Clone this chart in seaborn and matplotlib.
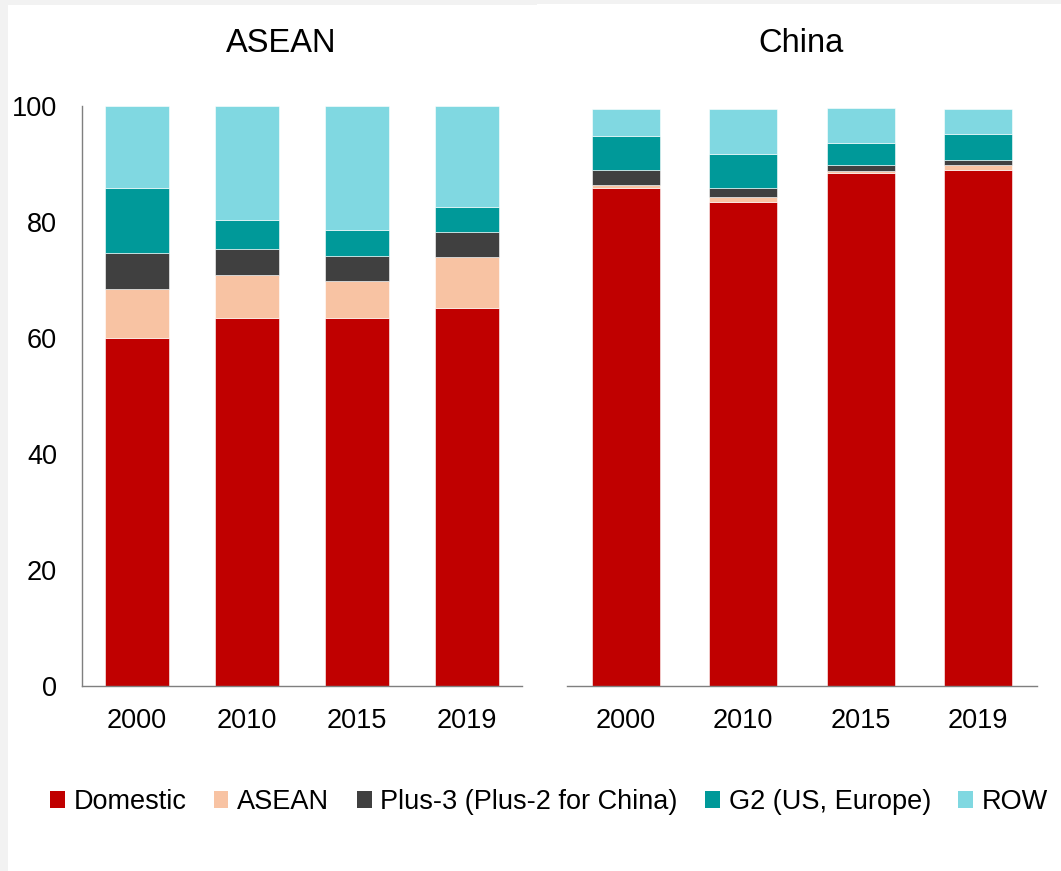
import matplotlib
matplotlib.use("Agg")
import matplotlib.pyplot as plt
from matplotlib.patches import Patch, Rectangle
import pandas as pd
import seaborn as sns

sns.set_theme(style="white")
plt.rcParams["font.family"] = ["Liberation Sans", "DejaVu Sans"]
plt.rcParams["text.color"] = "black"
plt.rcParams["xtick.color"] = "black"
plt.rcParams["ytick.color"] = "black"

years = ["2000", "2010", "2015", "2019"]
segments = ["Domestic", "ASEAN", "Plus-3 (Plus-2 for China)", "G2 (US, Europe)", "ROW"]
colors = ["#C00000", "#F8C3A3", "#404040", "#009999", "#80D8E1"]

# Value-added shares (%) by source, per economy
asean_domestic = [60.0, 63.5, 63.4, 65.1]
asean_asean = [8.4, 7.4, 6.4, 8.8]
asean_plus = [6.2, 4.4, 4.3, 4.4]
asean_g2 = [11.3, 5.0, 4.6, 4.3]
asean_row = [14.1, 19.7, 21.3, 17.4]

china_domestic = [85.9, 83.5, 88.4, 89.0]
china_asean = [0.5, 0.8, 0.4, 0.8]
china_plus = [2.6, 1.5, 1.1, 0.9]
china_g2 = [5.8, 6.0, 3.8, 4.5]
china_row = [4.7, 7.7, 6.0, 4.3]

panels = {
    "ASEAN": [asean_domestic, asean_asean, asean_plus, asean_g2, asean_row],
    "China": [china_domestic, china_asean, china_plus, china_g2, china_row],
}

W, H = 1061, 871
fig = plt.figure(figsize=(W / 100, H / 100), dpi=100, facecolor="#F2F2F2")
fig.patches.append(Rectangle((8 / W, 0), (537 - 8) / W, 1 - 5 / H,
                             transform=fig.transFigure, facecolor="white",
                             edgecolor="none", zorder=-5))
fig.patches.append(Rectangle((537 / W, 0), (W - 537) / W, 1 - 4 / H,
                             transform=fig.transFigure, facecolor="white",
                             edgecolor="none", zorder=-5))

bottom_frac = (H - 686) / H
height_frac = 580 / H
ax_left = fig.add_axes([82 / W, bottom_frac, 440 / W, height_frac])
ax_right = fig.add_axes([567 / W, bottom_frac, 470 / W, height_frac])

tick_fs = 19.5
for ax, (name, layers) in zip([ax_left, ax_right], panels.items()):
    ax.set_facecolor("none")
    cum = [0.0] * len(years)
    for seg, vals, col in zip(segments, layers, colors):
        df = pd.DataFrame({"year": years, "share": vals})
        sns.barplot(data=df, x="year", y="share", bottom=cum, color=col,
                    width=0.58, errorbar=None, saturation=1,
                    edgecolor="white", linewidth=0.4, ax=ax)
        cum = [c + v for c, v in zip(cum, vals)]
    ax.set_ylim(0, 100)
    ax.set_xlim(-0.5, len(years) - 0.5)
    ax.set_xlabel("")
    ax.set_ylabel("")
    ax.tick_params(axis="x", length=0, pad=16, labelsize=tick_fs, colors="black")
    ax.tick_params(axis="y", length=0, pad=18, labelsize=tick_fs, colors="black")
    for s in ["top", "right"]:
        ax.spines[s].set_visible(False)
    ax.spines["bottom"].set_color("#7F7F7F")
    ax.spines["bottom"].set_linewidth(1.0)

ax_left.set_yticks([0, 20, 40, 60, 80, 100])
ax_left.spines["left"].set_color("#7F7F7F")
ax_left.spines["left"].set_linewidth(1.0)
ax_right.set_yticks([])
ax_right.spines["left"].set_visible(False)

fig.text(281 / W, 1 - 43 / H, "ASEAN", ha="center", va="center", fontsize=23.5)
fig.text(801 / W, 1 - 43 / H, "China", ha="center", va="center", fontsize=23.5)

handles = [Patch(facecolor=c, edgecolor="none") for c in colors]
fig.legend(handles, segments, loc="center", bbox_to_anchor=(549 / W, 1 - 802 / H),
           ncol=5, frameon=False, fontsize=tick_fs, handlelength=0.55,
           handleheight=0.55, handletextpad=0.33, columnspacing=1.0,
           borderaxespad=0, labelcolor="black")

fig.savefig("out.png", dpi=100, facecolor=fig.get_facecolor())
